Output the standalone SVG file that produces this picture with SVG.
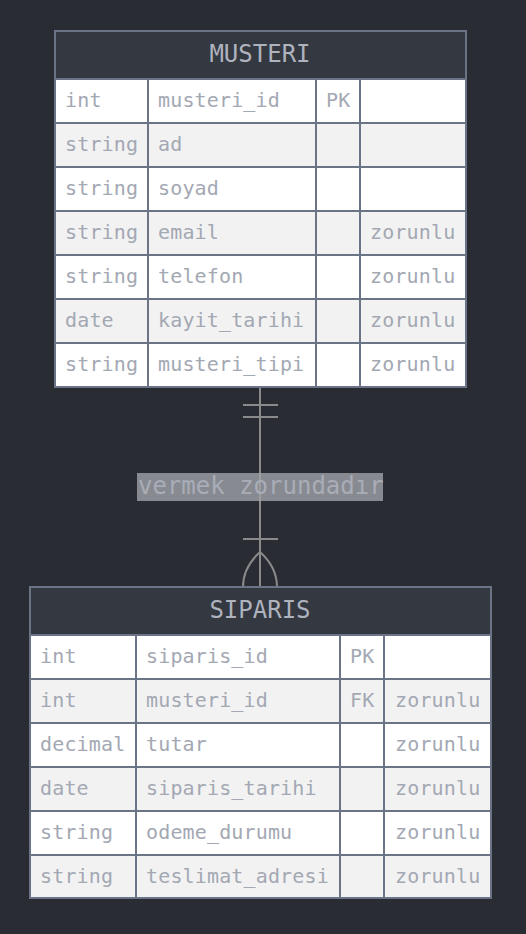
<svg xmlns="http://www.w3.org/2000/svg" width="526" height="934" viewBox="0 0 526 934">
<style>
.bg{fill:#2a2c33}
.hdr{fill:#343841;stroke:#6b7386;stroke-width:2}
.odd{fill:#ffffff;stroke:#6b7386;stroke-width:2}
.even{fill:#f2f2f2;stroke:#6b7386;stroke-width:2}
.div{stroke:#6b7386;stroke-width:2}
.ht{font-family:"DejaVu Sans Mono",monospace;font-size:24px;fill:#aeb3be;text-anchor:middle}
.t{font-family:"DejaVu Sans Mono",monospace;font-size:20px;fill:#a3a8b3;letter-spacing:0.15px}
.lbl{font-family:"DejaVu Sans Mono",monospace;font-size:24px;fill:#a9adb7}
.edge{stroke:#8a8a8a;stroke-width:2;fill:none}
</style>
<rect class="bg" x="0" y="0" width="526" height="934"/>
<g id="connectors">
<line class="edge" x1="260" y1="387" x2="260" y2="587"/>
<line class="edge" x1="243" y1="405" x2="278" y2="405"/>
<line class="edge" x1="243" y1="417" x2="278" y2="417"/>
<line class="edge" x1="243" y1="539" x2="278" y2="539"/>
<path class="edge" d="M260,552 C250,561 243,573 243,587"/>
<path class="edge" d="M260,552 C270,561 277,573 277,587"/>
<rect x="137" y="473" width="246" height="28" fill="#a0a2aa" fill-opacity="0.8"/>
<text class="lbl" x="138" y="493.5">vermek zorundadır</text>
</g>
<g id="MUSTERI">
<rect class="hdr" x="55" y="31" width="411" height="48"/>
<text class="ht" x="260" y="62">MUSTERI</text>
<rect class="odd" x="55" y="79" width="411" height="44"/>
<rect class="even" x="55" y="123" width="411" height="44"/>
<rect class="odd" x="55" y="167" width="411" height="44"/>
<rect class="even" x="55" y="211" width="411" height="44"/>
<rect class="odd" x="55" y="255" width="411" height="44"/>
<rect class="even" x="55" y="299" width="411" height="44"/>
<rect class="odd" x="55" y="343" width="411" height="44"/>
<line class="div" x1="148" y1="79" x2="148" y2="387"/>
<line class="div" x1="316" y1="79" x2="316" y2="387"/>
<line class="div" x1="360" y1="79" x2="360" y2="387"/>
<text class="t" x="65" y="107">int</text><text class="t" x="158" y="107">musteri_id</text><text class="t" x="326" y="107">PK</text>
<text class="t" x="65" y="151">string</text><text class="t" x="158" y="151">ad</text>
<text class="t" x="65" y="195">string</text><text class="t" x="158" y="195">soyad</text>
<text class="t" x="65" y="239">string</text><text class="t" x="158" y="239">email</text><text class="t" x="370" y="239">zorunlu</text>
<text class="t" x="65" y="283">string</text><text class="t" x="158" y="283">telefon</text><text class="t" x="370" y="283">zorunlu</text>
<text class="t" x="65" y="327">date</text><text class="t" x="158" y="327">kayit_tarihi</text><text class="t" x="370" y="327">zorunlu</text>
<text class="t" x="65" y="371">string</text><text class="t" x="158" y="371">musteri_tipi</text><text class="t" x="370" y="371">zorunlu</text>
</g>
<g id="SIPARIS">
<rect class="hdr" x="30" y="587" width="461" height="48"/>
<text class="ht" x="260" y="618">SIPARIS</text>
<rect class="odd" x="30" y="635" width="461" height="44"/>
<rect class="even" x="30" y="679" width="461" height="44"/>
<rect class="odd" x="30" y="723" width="461" height="44"/>
<rect class="even" x="30" y="767" width="461" height="44"/>
<rect class="odd" x="30" y="811" width="461" height="44"/>
<rect class="even" x="30" y="855" width="461" height="43"/>
<line class="div" x1="136" y1="635" x2="136" y2="898"/>
<line class="div" x1="340" y1="635" x2="340" y2="898"/>
<line class="div" x1="384" y1="635" x2="384" y2="898"/>
<text class="t" x="40" y="663">int</text><text class="t" x="146" y="663">siparis_id</text><text class="t" x="350" y="663">PK</text>
<text class="t" x="40" y="707">int</text><text class="t" x="146" y="707">musteri_id</text><text class="t" x="350" y="707">FK</text><text class="t" x="395" y="707">zorunlu</text>
<text class="t" x="40" y="751">decimal</text><text class="t" x="146" y="751">tutar</text><text class="t" x="395" y="751">zorunlu</text>
<text class="t" x="40" y="795">date</text><text class="t" x="146" y="795">siparis_tarihi</text><text class="t" x="395" y="795">zorunlu</text>
<text class="t" x="40" y="839">string</text><text class="t" x="146" y="839">odeme_durumu</text><text class="t" x="395" y="839">zorunlu</text>
<text class="t" x="40" y="883">string</text><text class="t" x="146" y="883">teslimat_adresi</text><text class="t" x="395" y="883">zorunlu</text>
</g>
</svg>
